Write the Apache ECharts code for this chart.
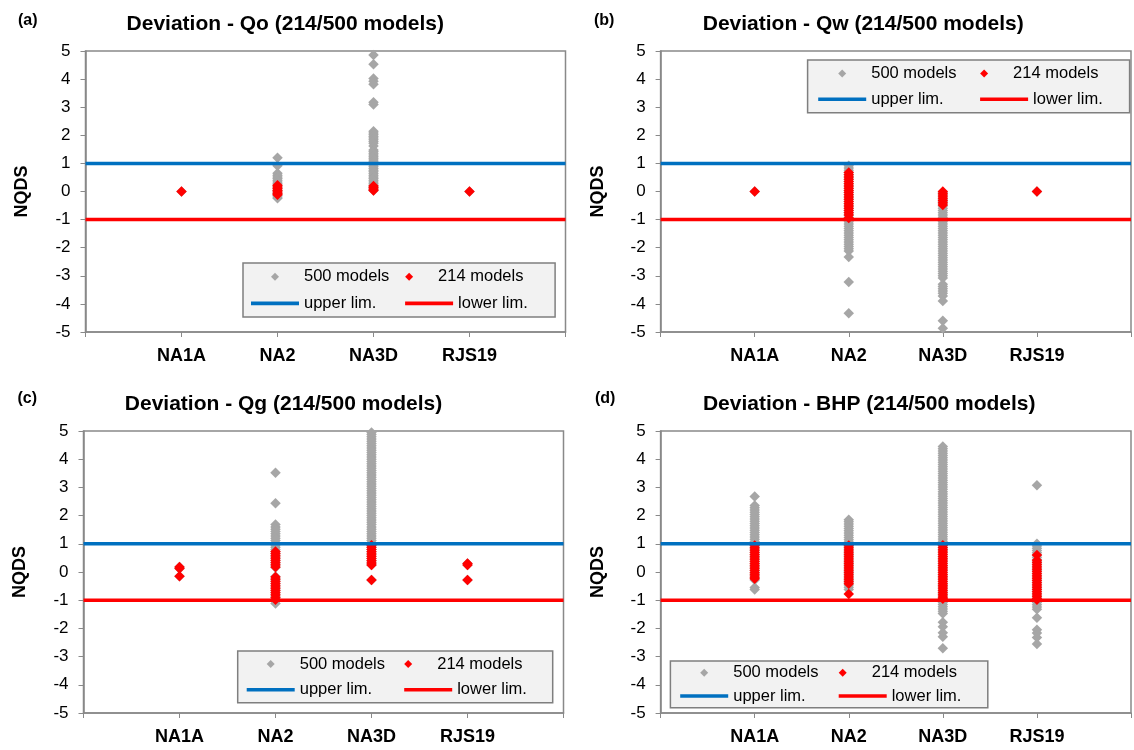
<!DOCTYPE html>
<html><head><meta charset="utf-8">
<script src="https://cdn.jsdelivr.net/npm/echarts@6/dist/echarts.min.js"></script>
<style>html,body{margin:0;padding:0;background:#fff}#c{width:1134px;height:750px}</style>
</head><body><div id="c"></div>
<script>
// ---------- data ----------
const categories = ['NA1A', 'NA2', 'NA3D', 'RJS19'];
const panelTitles = ['Deviation - Qo (214/500 models)', 'Deviation - Qw (214/500 models)', 'Deviation - Qg (214/500 models)', 'Deviation - BHP (214/500 models)'];
const panelLetters = ['(a)', '(b)', '(c)', '(d)'];
const seriesNames = ['500 models', '214 models', 'upper lim.', 'lower lim.'];
const yAxisName = 'NQDS';
const upperLimit = 1;
const lowerLimit = -1;

// Qo
const qo500 = [
  [0],
  [1.2, 0.92, 0.65, 0.58, 0.52, 0.46, 0.4, 0.34, 0.28, 0.22, 0.16, 0.1, 0.04, -0.02, -0.08, -0.14, -0.2, -0.24],
  [4.86, 4.53, 4.02, 3.92, 3.82, 3.18, 3.1, 2.14, 2.08, 2.02, 1.96, 1.9, 1.84, 1.78, 1.72, 1.62, 1.48, 1.42, 1.36, 1.3, 1.24, 1.18, 1.12, 1.06, 1.0, 0.94, 0.88, 0.82, 0.76, 0.7, 0.64, 0.58, 0.52, 0.46, 0.4, 0.34, 0.28, 0.22, 0.16, 0.1, 0.04],
  [0]
];
const qo214 = [
  [0],
  [0.22, 0.16, 0.1, 0.04, -0.02, -0.08, -0.12],
  [0.2, 0.14, 0.08, 0.04],
  [0]
];
// Qw
const qw500 = [
  [0],
  [0.92, 0.84, 0.76, 0.68, 0.6, 0.52, 0.44, 0.36, 0.28, 0.2, 0.12, 0.04, -0.04, -0.12, -0.2, -0.28, -0.36, -0.44, -0.52, -0.6, -0.68, -0.76, -0.84, -0.92, -1.0, -1.08, -1.16, -1.24, -1.32, -1.4, -1.48, -1.56, -1.64, -1.72, -1.8, -1.88, -1.96, -2.04, -2.12, -2.33, -3.22, -4.33],
  [-0.04, -0.12, -0.2, -0.28, -0.36, -0.44, -0.52, -0.6, -0.68, -0.76, -0.84, -0.92, -1.0, -1.08, -1.16, -1.24, -1.32, -1.4, -1.48, -1.56, -1.64, -1.72, -1.8, -1.88, -1.96, -2.04, -2.12, -2.2, -2.28, -2.36, -2.44, -2.52, -2.6, -2.68, -2.76, -2.84, -2.92, -3.0, -3.08, -3.3, -3.38, -3.46, -3.54, -3.62, -3.72, -3.9, -4.6, -4.87],
  [0]
];
const qw214 = [
  [0],
  [0.68, 0.6, 0.52, 0.44, 0.36, 0.28, 0.2, 0.12, 0.04, -0.04, -0.12, -0.2, -0.28, -0.36, -0.44, -0.52, -0.6, -0.68, -0.76, -0.84, -0.94],
  [0, -0.08, -0.16, -0.24, -0.32, -0.4, -0.48],
  [0]
];
// Qg
const qg500 = [
  [0.18, 0.12, -0.15],
  [3.52, 2.44, 1.68, 1.6, 1.52, 1.44, 1.36, 1.28, 1.2, 1.12, 1.04, 0.96, 0.88, 0.8, 0.72, 0.64, 0.56, 0.48, 0.4, 0.32, 0.24, 0.16, -0.16, -0.24, -0.32, -0.4, -0.48, -0.56, -0.64, -0.72, -0.8, -0.88, -0.96, -1.04, -1.12],
  [4.95, 4.88, 4.8, 4.72, 4.64, 4.56, 4.48, 4.4, 4.32, 4.24, 4.16, 4.08, 4.0, 3.92, 3.84, 3.76, 3.68, 3.6, 3.52, 3.44, 3.36, 3.28, 3.2, 3.12, 3.04, 2.96, 2.88, 2.8, 2.72, 2.64, 2.56, 2.48, 2.4, 2.32, 2.24, 2.16, 2.08, 2.0, 1.92, 1.84, 1.76, 1.68, 1.6, 1.52, 1.44, 1.36, 1.28, 1.2, 1.12, 1.04, 0.96, 0.88, 0.8, 0.72, 0.64, 0.56, 0.48, 0.4, 0.32, 0.25, -0.28],
  [0.3, 0.25, -0.28]
];
const qg214 = [
  [0.18, 0.12, -0.15],
  [0.73, 0.66, 0.58, 0.5, 0.42, 0.34, 0.26, 0.18, -0.18, -0.26, -0.34, -0.42, -0.5, -0.58, -0.66, -0.74, -0.82, -0.9, -0.98],
  [0.95, 0.88, 0.8, 0.72, 0.64, 0.56, 0.48, 0.4, 0.32, 0.25, -0.28],
  [0.3, 0.25, -0.28]
];
// BHP
const bhp500 = [
  [2.68, 2.36, 2.28, 2.2, 2.12, 2.04, 1.96, 1.88, 1.8, 1.72, 1.64, 1.56, 1.48, 1.4, 1.32, 1.24, 1.16, 1.08, 1.0, 0.92, 0.84, 0.76, 0.68, 0.6, 0.52, 0.44, 0.36, 0.28, 0.2, 0.12, 0.04, -0.04, -0.12, -0.2, -0.28, -0.55, -0.62],
  [1.85, 1.78, 1.7, 1.62, 1.54, 1.46, 1.38, 1.3, 1.22, 1.14, 1.06, 0.98, 0.9, 0.82, 0.74, 0.66, 0.58, 0.5, 0.42, 0.34, 0.26, 0.18, 0.1, 0.02, -0.06, -0.14, -0.22, -0.3, -0.38, -0.46, -0.54, -0.62],
  [4.45, 4.37, 4.29, 4.21, 4.13, 4.05, 3.97, 3.89, 3.81, 3.73, 3.65, 3.57, 3.49, 3.41, 3.33, 3.25, 3.17, 3.09, 3.01, 2.93, 2.85, 2.77, 2.69, 2.61, 2.53, 2.45, 2.37, 2.29, 2.21, 2.13, 2.05, 1.97, 1.89, 1.81, 1.73, 1.65, 1.57, 1.49, 1.41, 1.33, 1.25, 1.17, 1.09, 1.01, 0.93, 0.85, 0.77, 0.69, 0.61, 0.53, 0.45, 0.37, 0.29, 0.21, 0.13, 0.05, -0.03, -0.11, -0.19, -0.27, -0.35, -0.43, -0.51, -0.59, -0.67, -0.75, -0.83, -0.91, -0.99, -1.07, -1.15, -1.23, -1.31, -1.39, -1.47, -1.78, -1.94, -2.15, -2.3, -2.7],
  [3.08, 1.0, 0.92, 0.84, 0.76, 0.68, 0.6, 0.52, 0.44, 0.36, 0.28, 0.2, 0.12, 0.04, -0.04, -0.12, -0.2, -0.28, -0.36, -0.44, -0.52, -0.6, -0.68, -0.76, -0.84, -0.92, -1.0, -1.08, -1.16, -1.24, -1.32, -1.62, -2.05, -2.16, -2.32, -2.55]
];
const bhp214 = [
  [0.94, 0.86, 0.78, 0.7, 0.62, 0.54, 0.46, 0.38, 0.3, 0.22, 0.14, 0.06, -0.02, -0.1, -0.18, -0.24],
  [0.94, 0.86, 0.78, 0.7, 0.62, 0.54, 0.46, 0.38, 0.3, 0.22, 0.14, 0.06, -0.02, -0.1, -0.18, -0.26, -0.34, -0.42, -0.78],
  [0.95, 0.87, 0.79, 0.71, 0.63, 0.55, 0.47, 0.39, 0.31, 0.23, 0.15, 0.07, -0.01, -0.09, -0.17, -0.25, -0.33, -0.41, -0.49, -0.57, -0.65, -0.73, -0.81, -0.89, -0.95],
  [0.6, 0.42, 0.34, 0.26, 0.18, 0.1, 0.02, -0.06, -0.14, -0.22, -0.3, -0.38, -0.46, -0.54, -0.62, -0.7, -0.78, -0.86, -0.94, -0.98]
];

// ---------- layout / style ----------
const FONT = 'Liberation Sans, Arial, Helvetica, sans-serif';
const GRAY = '#A6A6A6', RED = '#FF0000', BLUE = '#0070C0', AXIS = '#898989';
const LINE_ICON = 'path://M0 0H480V36H0Z';
const DIAMOND_ICON = 'path://M5 0L10 5L5 10L0 5Z';

const panels = [
  { d500: qo500, d214: qo214, grid: { left: 85.5, top: 51, width: 480, height: 281 }, tx: 285.3, ty: 24, lx: 18, ly: 20.5,
    lg: { left: 243, top: 263, padL: 8, padT: 4.15, pitch: 154.6, gap: 7.7, tw2: 96 } },
  { d500: qw500, d214: qw214, grid: { left: 660.6, top: 51, width: 480, height: 281 }, tx: 863.2, ty: 24, lx: 594, ly: 20.5,
    lg: { left: 807.6, top: 60, padL: 10.6, padT: 4, pitch: 162.4, gap: 6.7, tw2: 95.5 } },
  { d500: qg500, d214: qg214, grid: { left: 83.5, top: 431, width: 480, height: 282 }, tx: 283.5, ty: 404.3, lx: 17.4, ly: 398.5,
    lg: { left: 237.7, top: 651, padL: 9, padT: 3.5, pitch: 158, gap: 6.7, tw2: 94.5 } },
  { d500: bhp500, d214: bhp214, grid: { left: 660.6, top: 431, width: 480, height: 282 }, tx: 869.2, ty: 404.3, lx: 595, ly: 398.5,
    lg: { left: 670.4, top: 661, padL: 9.8, padT: 2.2, pitch: 159, gap: 4.3, tw2: 95.1 } }
];

function toPoints(groups) {
  const pts = [];
  groups.forEach((vals, i) => vals.forEach(v => pts.push([i + 1, v])));
  return pts;
}

const grids = [], xAxes = [], yAxes = [], series = [], legends = [], graphics = [];
panels.forEach((p, k) => {
  grids.push(Object.assign({ show: true, borderColor: AXIS, borderWidth: 1.5, backgroundColor: 'transparent', containLabel: false }, p.grid));
  xAxes.push({
    type: 'value', gridIndex: k, min: 0, max: categories.length + 1, interval: 1,
    axisLine: { onZero: false, lineStyle: { color: AXIS, width: 1.5 } },
    axisTick: { show: true, length: 5, lineStyle: { color: AXIS, width: 1 } },
    splitLine: { show: false },
    axisLabel: { margin: 15, fontFamily: FONT, fontSize: 18, fontWeight: 'bold', color: '#000',
      formatter: v => categories[v - 1] || '' }
  });
  yAxes.push({
    type: 'value', gridIndex: k, min: -5, max: 5, interval: 1,
    name: yAxisName, nameLocation: 'middle', nameRotate: 90, nameGap: 54,
    nameTextStyle: { fontFamily: FONT, fontSize: 18, fontWeight: 'bold', color: '#000' },
    axisLine: { show: true, onZero: false, lineStyle: { color: AXIS, width: 1.5 } },
    axisTick: { show: true, length: 5, lineStyle: { color: AXIS, width: 1 } },
    splitLine: { show: false },
    axisLabel: { margin: 15, fontFamily: FONT, fontSize: 17, color: '#000' }
  });
  series.push({ name: seriesNames[0], type: 'scatter', xAxisIndex: k, yAxisIndex: k, symbol: 'diamond', symbolSize: 10.5,
    itemStyle: { color: GRAY, opacity: 1 }, data: toPoints(p.d500), silent: true, z: 2 });
  series.push({ name: seriesNames[1], type: 'scatter', xAxisIndex: k, yAxisIndex: k, symbol: 'diamond', symbolSize: 10.5,
    itemStyle: { color: RED, opacity: 1 }, data: toPoints(p.d214), silent: true, z: 3 });
  series.push({ name: seriesNames[2], type: 'line', xAxisIndex: k, yAxisIndex: k, symbol: 'none', color: BLUE,
    lineStyle: { color: BLUE, width: 3.5 }, data: [[0, upperLimit], [categories.length + 1, upperLimit]], silent: true, z: 4 });
  series.push({ name: seriesNames[3], type: 'line', xAxisIndex: k, yAxisIndex: k, symbol: 'none', color: RED,
    lineStyle: { color: RED, width: 3.5 }, data: [[0, lowerLimit], [categories.length + 1, lowerLimit]], silent: true, z: 4 });

  const L = p.lg;
  const tw1 = L.pitch - 53.5 - L.gap;
  const total = 53.5 + tw1 + L.gap + 53.5 + L.tw2;
  legends.push({
    left: L.left, top: L.top, orient: 'horizontal', width: total + 1,
    itemWidth: 48, itemHeight: 8, itemGap: L.gap, padding: [L.padT, 1, L.padT, L.padL],
    backgroundColor: '#F2F2F2', borderColor: '#7F7F7F', borderWidth: 1.5, borderRadius: 0,
    selectedMode: false, symbolKeepAspect: true,
    textStyle: { fontFamily: FONT, fontSize: 16.5, color: '#000', lineHeight: 19 },
    data: [
      { name: seriesNames[0], icon: DIAMOND_ICON, textStyle: { width: tw1 } },
      { name: seriesNames[1], icon: DIAMOND_ICON, textStyle: { width: L.tw2 } },
      { name: seriesNames[2], icon: LINE_ICON, textStyle: { width: tw1 } },
      { name: seriesNames[3], icon: LINE_ICON, textStyle: { width: L.tw2 } }
    ]
  });

  graphics.push({ type: 'text', x: p.tx, y: p.ty, style: { text: panelTitles[k], font: 'bold 21px ' + FONT, fill: '#000', textAlign: 'center', textVerticalAlign: 'middle' } });
  graphics.push({ type: 'text', x: p.lx, y: p.ly, style: { text: panelLetters[k], font: 'bold 16px ' + FONT, fill: '#000', textAlign: 'left', textVerticalAlign: 'middle' } });
});

const chart = echarts.init(document.getElementById('c'), null, { renderer: 'canvas' });
chart.setOption({
  animation: false,
  backgroundColor: '#fff',
  grid: grids, xAxis: xAxes, yAxis: yAxes, series: series, legend: legends,
  graphic: graphics
});
</script></body></html>
